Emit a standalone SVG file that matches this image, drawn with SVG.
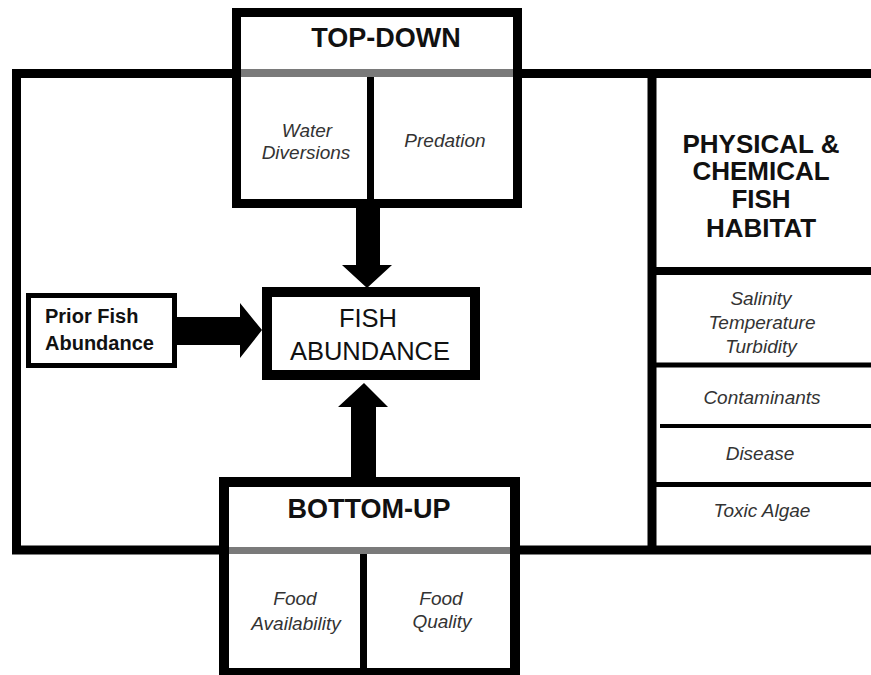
<svg xmlns="http://www.w3.org/2000/svg" width="871" height="675" viewBox="0 0 871 675">
<style>
.frame{fill:none;stroke:#000;stroke-width:9}
.box{fill:#fff;stroke:#000}
.line{stroke:#000}
.band{fill:#7a7a7a}
.arrow{fill:#000}
.head{font-family:"Liberation Sans",Arial,sans-serif;font-weight:bold;fill:#111;text-anchor:middle}
.main{font-family:"Liberation Sans",Arial,sans-serif;fill:#111;text-anchor:middle}
.item{font-family:"Liberation Sans",Arial,sans-serif;font-style:italic;fill:#333;text-anchor:middle;font-size:19px}
</style>
<rect width="871" height="675" fill="#fff"/>
<g id="frame">
<path class="frame" d="M880,73.5 H16.5 V550 H880"/>
<line class="line" x1="652" y1="69" x2="652" y2="554" stroke-width="9"/>
</g>
<g id="habitat">
<line class="line" x1="652" y1="271" x2="871" y2="271" stroke-width="8"/>
<line class="line" x1="652" y1="365" x2="871" y2="365" stroke-width="5"/>
<line class="line" x1="660" y1="426" x2="871" y2="426" stroke-width="4"/>
<line class="line" x1="652" y1="484.5" x2="871" y2="484.5" stroke-width="5"/>
<text class="head" font-size="26" x="761" y="153">PHYSICAL &amp;</text>
<text class="head" font-size="26" x="761" y="180">CHEMICAL</text>
<text class="head" font-size="26" x="761" y="208">FISH</text>
<text class="head" font-size="26" x="761" y="237">HABITAT</text>
<text class="item" x="761" y="305">Salinity</text>
<text class="item" x="762" y="329">Temperature</text>
<text class="item" x="761" y="353">Turbidity</text>
<text class="item" x="762" y="404">Contaminants</text>
<text class="item" x="760" y="460">Disease</text>
<text class="item" x="762" y="517">Toxic Algae</text>
</g>
<g id="connectors">
<polygon class="arrow" points="356,206 380,206 380,265 392,265 367,288 342,265 356,265"/>
<polygon class="arrow" points="351,479 376,479 376,407 388,407 364,383 338,407 351,407"/>
<polygon class="arrow" points="175,317 240,317 240,303 262,330 240,358 240,345 175,345"/>
</g>
<g id="top-down">
<rect class="box" x="236.5" y="12.5" width="281" height="191" stroke-width="9"/>
<rect class="band" x="241" y="69" width="272" height="8"/>
<line class="line" x1="370.5" y1="77" x2="370.5" y2="199" stroke-width="7"/>
<text class="head" font-size="27" x="386" y="47">TOP-DOWN</text>
<text class="item" x="307" y="137">Water</text>
<text class="item" x="306" y="159">Diversions</text>
<text class="item" x="445" y="147">Predation</text>
</g>
<g id="fish-abundance">
<rect class="box" x="267" y="292" width="208" height="83" stroke-width="10"/>
<text class="main" font-size="25.5" x="368" y="327">FISH</text>
<text class="main" font-size="25.5" x="370" y="360">ABUNDANCE</text>
</g>
<g id="prior-fish">
<rect class="box" x="28.5" y="295.5" width="146" height="70" stroke-width="5"/>
<text class="head" font-size="20" x="45" y="323" text-anchor="start" style="text-anchor:start">Prior Fish</text>
<text class="head" font-size="20" x="45" y="350" style="text-anchor:start">Abundance</text>
</g>
<g id="bottom-up">
<rect class="box" x="224" y="482" width="291" height="191" stroke-width="10"/>
<rect class="band" x="229" y="547" width="281" height="7"/>
<line class="line" x1="363.5" y1="554" x2="363.5" y2="669" stroke-width="7"/>
<text class="head" font-size="27" x="369" y="518">BOTTOM-UP</text>
<text class="item" x="295" y="605">Food</text>
<text class="item" x="296" y="630">Availability</text>
<text class="item" x="441" y="605">Food</text>
<text class="item" x="442" y="628">Quality</text>
</g>
</svg>
